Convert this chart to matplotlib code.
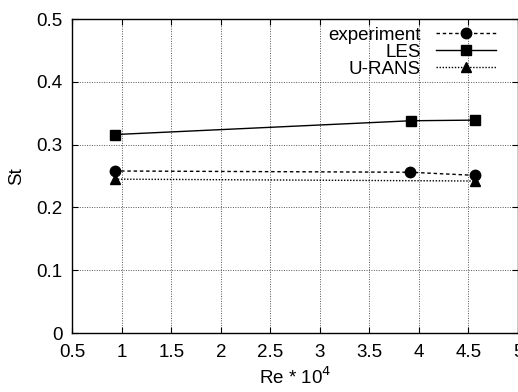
import matplotlib
matplotlib.use("Agg")
import matplotlib.pyplot as plt

plt.rcParams['font.family'] = ['Liberation Sans', 'DejaVu Sans']

# Strouhal number vs Reynolds number (x 10^4)
re_exp = [0.93, 3.91, 4.57]
st_exp = [0.258, 0.256, 0.251]
re_les = [0.93, 3.92, 4.57]
st_les = [0.316, 0.338, 0.339]
re_urans = [0.93, 4.57]
st_urans = [0.245, 0.242]

xticks = [0.5, 1, 1.5, 2, 2.5, 3, 3.5, 4, 4.5, 5]
yticks = [0, 0.1, 0.2, 0.3, 0.4, 0.5]

fig = plt.figure(figsize=(5.18, 3.92), dpi=100)
ax = fig.add_axes([0.1395, 0.1505, 0.8605, 0.801])

ax.plot(re_exp, st_exp, color='black', linestyle=(0, (2.5, 2)), linewidth=1.0,
        marker='o', markersize=7.5, label='experiment')
ax.plot(re_les, st_les, color='black', linestyle='-', linewidth=1.0,
        marker='s', markersize=7, label='LES')
ax.plot(re_urans, st_urans, color='black', linestyle=(0, (1, 1.2)), linewidth=1.0,
        marker='^', markersize=6.5, label='U-RANS')

ax.set_xlim(0.5, 5)
ax.set_ylim(0, 0.5)
ax.set_xticks(xticks)
ax.set_xticklabels(['0.5', '1', '1.5', '2', '2.5', '3', '3.5', '4', '4.5', '5'])
ax.set_yticks(yticks)
ax.set_yticklabels(['0', '0.1', '0.2', '0.3', '0.4', '0.5'])
ax.tick_params(direction='in', length=4, width=0.8, labelsize=13.5, top=True, right=True)
ax.tick_params(axis='x', pad=8)
ax.tick_params(axis='y', pad=7)
ax.grid(True, color='#555555', linestyle=(0, (1, 1.5)), linewidth=0.7)
for s in ax.spines.values():
    s.set_linewidth(1.0)

ax.set_xlabel('Re * 10$^4$', fontsize=13.5, labelpad=4)
ax.set_ylabel('St', fontsize=13.5, labelpad=8)

leg = ax.legend(loc='upper right', bbox_to_anchor=(0.975, 1.012), frameon=False,
                markerfirst=False, fontsize=13.5, handlelength=3.2,
                handletextpad=0.8, labelspacing=0.0, borderaxespad=0.2)
for t in leg.get_texts():
    t.set_ha('right')
leg._legend_box.align = 'right'

fig.savefig('out.png', dpi=100)
